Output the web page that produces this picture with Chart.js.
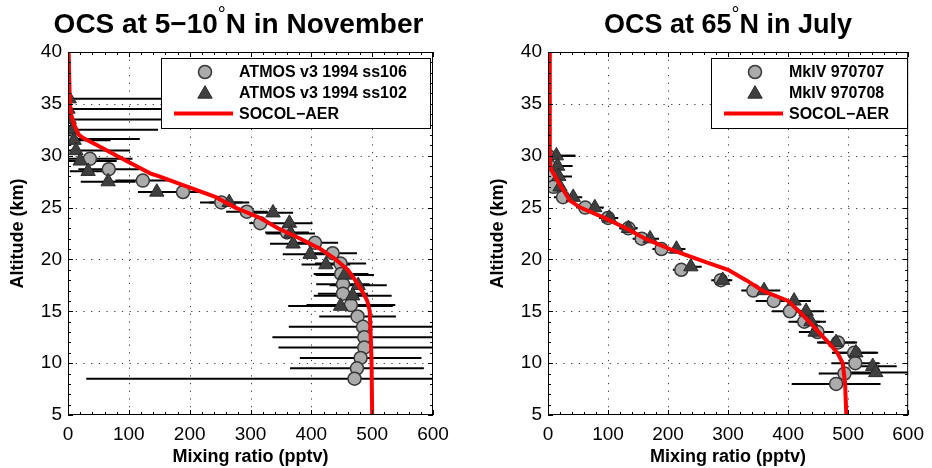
<!DOCTYPE html>
<html><head><meta charset="utf-8">
<script src="https://cdn.jsdelivr.net/npm/chart.js@4.4.0/dist/chart.umd.min.js"></script>
<style>
html,body{margin:0;padding:0;background:#fff;width:932px;height:468px;overflow:hidden;}
.panel{position:absolute;top:0;width:466px;height:468px;}
canvas{display:block;}
</style></head><body>
<div class="panel" style="left:0"><canvas id="c1" width="466" height="468"></canvas></div>
<div class="panel" style="left:466px"><canvas id="c2" width="466" height="468"></canvas></div>
<script>
// ---------- axes ----------
const xTicks = [0, 100, 200, 300, 400, 500, 600];
const yTicks = [5, 10, 15, 20, 25, 30, 35, 40];

// ---------- left panel: OCS at 5-10N, November ----------
const atmos106Alt = [31.6, 29.7, 28.7, 27.6, 26.5, 25.5, 24.6, 23.5, 22.6, 21.6, 20.6, 19.6, 18.6, 17.6, 16.7, 15.6, 14.5, 13.5, 12.5, 11.5, 10.5, 9.5, 8.5];
const atmos106Val = [0, 36, 67, 123, 189, 252, 294, 316, 360, 406, 435, 448, 449, 452, 452, 465, 476, 485, 487, 487, 481, 475, 471];
const atmos106Err = [118, 70, 50, 45, 33, 35, 34, 18, 36, 38, 40, 42, 45, 44, 41, 73, 63, 122, 151, 141, 100, 110, 441];

const atmos102Alt = [35.5, 34.5, 33.5, 32.5, 31.5, 30.5, 29.5, 28.5, 27.5, 26.5, 25.5, 24.5, 23.5, 22.5, 21.5, 20.5, 19.5, 18.5, 17.5, 16.5, 15.5];
const atmos102Val = [2, 0, 2, 7, 10, 13, 20, 33, 66, 146, 265, 337, 364, 366, 370, 398, 424, 455, 477, 468, 448];
const atmos102Err = [220, 220, 210, 141, 60, 89, 60, 30, 45, 31, 33, 33, 38, 40, 38, 45, 40, 48, 47, 64, 86];

const socolTropAlt = [40, 35, 34, 33, 32, 31.7, 31, 30, 29, 28.3, 28, 27, 26, 25, 24, 23, 22, 21, 20, 19, 18, 17, 16, 15, 12, 10, 5];
const socolTropVal = [1, 3, 5, 10, 18, 25, 48, 80, 112, 135, 150, 197, 243, 275, 316, 345, 382, 415, 440, 460, 472, 483, 492, 496, 498, 499, 500];

// ---------- right panel: OCS at 65N, July ----------
const mkiv707Alt = [30, 29, 28, 27, 26, 25, 24, 23, 22, 21, 19, 18, 17, 16, 15, 14, 13, 12, 11, 10, 9, 8];
const mkiv707Val = [0, 2, 6, 9, 25, 62, 100, 134, 156, 189, 222, 288, 342, 376, 403, 427, 449, 483, 510, 512, 494, 480];
const mkiv707Err = [45, 30, 20, 15, 15, 15, 15, 15, 15, 15, 14, 16, 20, 30, 30, 26, 27, 32, 37, 40, 43, 74];

const mkiv708Alt = [30, 29, 28, 27, 26, 25, 24, 23, 22, 21, 19.3, 18, 17, 16, 15, 14, 13, 12, 11, 9.7, 9.1];
const mkiv708Val = [14, 16, 18, 20, 42, 78, 102, 134, 170, 214, 238, 291, 360, 410, 430, 438, 445, 480, 513, 541, 546];
const mkiv708Err = [32, 25, 22, 8, 15, 15, 15, 15, 15, 15, 18, 16, 27, 28, 30, 25, 27, 32, 37, 40, 60];

const socolArcAlt = [40, 30, 29, 28.6, 28, 27, 26, 25.7, 25, 24, 23, 22, 21, 20, 19, 18, 17, 16, 15, 14, 13, 12, 11, 10, 8, 5];
const socolArcVal = [3, 3, 4, 6, 12, 22, 33, 36, 54, 94, 130, 162, 203, 250, 300, 330, 357, 400, 418, 435, 451, 467, 482, 491, 495, 497];

const leftLabels = ['ATMOS v3 1994 ss106', 'ATMOS v3 1994 ss102', 'SOCOL\u2212AER'];
const rightLabels = ['MkIV 970707', 'MkIV 970708', 'SOCOL\u2212AER'];

const FONT = '"Liberation Sans", Arial, Helvetica, sans-serif';
const CIRCLE_FILL = '#ababab', CIRCLE_EDGE = '#383838';
const TRI_FILL = '#3f3f3f', TRI_EDGE = '#2a2a2a';
const CIRCLE_R = 6.5, TRI_R = 8.3;

function pts(alt, val) { return alt.map((a, i) => ({ x: val[i], y: a })); }

function drawTri(ctx, x, y, r) {
  ctx.beginPath();
  for (let k = 0; k < 3; k++) {
    const ang = k * 2 * Math.PI / 3;
    const px = x + Math.sin(ang) * r, py = y - Math.cos(ang) * r;
    if (k === 0) ctx.moveTo(px, py); else ctx.lineTo(px, py);
  }
  ctx.closePath();
}

function makePanel(id, cfg) {
  const plugin = {
    id: 'deco' + id,
    beforeDatasetsDraw(chart) {
      const { ctx, chartArea: a, scales: { x, y } } = chart;
      ctx.save();
      // dotted grid
      ctx.strokeStyle = '#3a3a3a'; ctx.lineWidth = 1; ctx.setLineDash([1.2, 6.5]);
      xTicks.slice(1, -1).forEach(v => {
        const px = Math.round(x.getPixelForValue(v)) + 0.5;
        ctx.beginPath(); ctx.moveTo(px, a.bottom); ctx.lineTo(px, a.top); ctx.stroke();
      });
      yTicks.slice(1, -1).forEach(v => {
        const py = Math.round(y.getPixelForValue(v)) + 0.5;
        ctx.beginPath(); ctx.moveTo(a.left, py); ctx.lineTo(a.right, py); ctx.stroke();
      });
      ctx.setLineDash([]);
      // error bars
      ctx.beginPath(); ctx.rect(a.left, a.top, a.right - a.left, a.bottom - a.top); ctx.clip();
      ctx.strokeStyle = '#000'; ctx.lineWidth = 2;
      cfg.series.forEach(s => {
        s.alt.forEach((al, i) => {
          const py = y.getPixelForValue(al);
          ctx.beginPath();
          ctx.moveTo(x.getPixelForValue(s.val[i] - s.err[i]), py);
          ctx.lineTo(x.getPixelForValue(s.val[i] + s.err[i]), py);
          ctx.stroke();
        });
      });
      ctx.restore();
    },
    afterDatasetsDraw(chart) {
      const { ctx, chartArea: a, scales: { x, y } } = chart;
      ctx.save();
      // frame
      ctx.strokeStyle = '#000'; ctx.lineWidth = 1;
      ctx.strokeRect(a.left + 0.5, a.top + 0.5, a.right - a.left - 1, a.bottom - a.top - 1);
      // ticks
      ctx.beginPath();
      for (let v = 0; v <= 600; v += 20) {
        const px = Math.round(x.getPixelForValue(v)) + 0.5;
        const L = (v % 100 === 0) ? 5 : 3;
        ctx.moveTo(px, a.bottom); ctx.lineTo(px, a.bottom - L);
        ctx.moveTo(px, a.top); ctx.lineTo(px, a.top + L);
      }
      for (let v = 5; v <= 40; v += 1) {
        const py = Math.round(y.getPixelForValue(v)) + 0.5;
        const L = (v % 5 === 0) ? 5 : 3;
        ctx.moveTo(a.left, py); ctx.lineTo(a.left + L, py);
        ctx.moveTo(a.right, py); ctx.lineTo(a.right - L, py);
      }
      ctx.stroke();
      // legend
      const L = cfg.legend;
      ctx.fillStyle = '#fff';
      ctx.fillRect(L.x, L.y, L.w, L.h);
      ctx.strokeStyle = '#000'; ctx.lineWidth = 1;
      ctx.strokeRect(L.x + 0.5, L.y + 0.5, L.w, L.h);
      const mx = L.x + 44, rows = [L.y + 14, L.y + 34.5, L.y + 55.5];
      ctx.beginPath(); ctx.arc(mx, rows[0], CIRCLE_R, 0, Math.PI * 2);
      ctx.fillStyle = CIRCLE_FILL; ctx.fill(); ctx.lineWidth = 1.5; ctx.strokeStyle = CIRCLE_EDGE; ctx.stroke();
      drawTri(ctx, mx, rows[1] + 1.5, TRI_R);
      ctx.fillStyle = TRI_FILL; ctx.fill(); ctx.lineWidth = 1; ctx.strokeStyle = TRI_EDGE; ctx.stroke();
      ctx.beginPath(); ctx.moveTo(L.x + 13, rows[2]); ctx.lineTo(L.x + 72, rows[2]);
      ctx.strokeStyle = '#ff0000'; ctx.lineWidth = 4; ctx.stroke();
      ctx.fillStyle = '#000'; ctx.font = 'bold 16px ' + FONT; ctx.textBaseline = 'middle'; ctx.textAlign = 'left';
      cfg.labels.forEach((t, i) => ctx.fillText(t, L.x + 78, rows[i] + 1));
      // title
      const cx = (a.left + a.right) / 2, tb = 33;
      const tcx = cx + cfg.titleShift, fs = cfg.titleSize;
      ctx.textBaseline = 'alphabetic';
      ctx.font = 'bold ' + fs + 'px ' + FONT;
      const w1 = ctx.measureText(cfg.title[0]).width, w3 = ctx.measureText(cfg.title[1]).width;
      ctx.font = '20px ' + FONT;
      const w2 = ctx.measureText('\u00b0').width;
      let tx = tcx - (w1 + w2 + w3) / 2;
      ctx.font = 'bold ' + fs + 'px ' + FONT; ctx.fillText(cfg.title[0], tx, tb);
      ctx.font = '20px ' + FONT; ctx.fillText('\u00b0', tx + w1, tb - 12);
      ctx.font = 'bold ' + fs + 'px ' + FONT; ctx.fillText(cfg.title[1], tx + w1 + w2, tb);
      // axis titles
      ctx.font = 'bold 18px ' + FONT; ctx.textAlign = 'center';
      ctx.fillText('Mixing ratio (pptv)', cx, 462);
      ctx.save();
      ctx.translate(a.left - 50, (a.top + a.bottom) / 2);
      ctx.rotate(-Math.PI / 2);
      ctx.textBaseline = 'middle';
      ctx.fillText('Altitude (km)', 0, 0);
      ctx.restore();
      ctx.restore();
    }
  };

  const [circ, tri] = cfg.series;
  return new Chart(document.getElementById(id), {
    type: 'scatter',
    data: {
      datasets: [
        { label: cfg.labels[2], data: pts(cfg.model.alt, cfg.model.val), showLine: true, borderColor: '#ff0000', borderWidth: 4, pointRadius: 0, tension: 0, fill: false, order: 0 },
        { label: cfg.labels[1], data: pts(tri.alt, tri.val), pointStyle: 'triangle', pointRadius: TRI_R, backgroundColor: TRI_FILL, borderColor: TRI_EDGE, borderWidth: 1, order: 1 },
        { label: cfg.labels[0], data: pts(circ.alt, circ.val), pointStyle: 'circle', pointRadius: CIRCLE_R, backgroundColor: CIRCLE_FILL, borderColor: CIRCLE_EDGE, borderWidth: 1.5, order: 2 }
      ]
    },
    options: {
      responsive: false, animation: false, devicePixelRatio: 1,
      layout: { padding: { left: 0, right: cfg.padRight, top: 52, bottom: 0 } },
      plugins: { legend: { display: false }, tooltip: { enabled: false }, title: { display: false } },
      scales: {
        x: {
          type: 'linear', min: 0, max: 600,
          afterBuildTicks: s => { s.ticks = xTicks.map(v => ({ value: v })); },
          ticks: { font: { family: FONT, size: 19 }, color: '#000', padding: 8, maxRotation: 0, autoSkip: false },
          grid: { display: false, drawTicks: false }, border: { display: false },
          afterFit: s => { s.height = 53; }
        },
        y: {
          type: 'linear', min: 5, max: 40,
          afterBuildTicks: s => { s.ticks = yTicks.map(v => ({ value: v })); },
          ticks: { font: { family: FONT, size: 19 }, color: '#000', padding: 6, autoSkip: false },
          grid: { display: false, drawTicks: false }, border: { display: false },
          afterFit: s => { s.width = cfg.yWidth; }
        }
      }
    },
    plugins: [plugin]
  });
}

makePanel('c1', {
  series: [
    { alt: atmos106Alt, val: atmos106Val, err: atmos106Err },
    { alt: atmos102Alt, val: atmos102Val, err: atmos102Err }
  ],
  model: { alt: socolTropAlt, val: socolTropVal },
  labels: leftLabels,
  title: ['OCS at 5\u221210', 'N in November'],
  titleSize: 28, titleShift: -12,
  legend: { x: 161, y: 58, w: 269, h: 70 },
  yWidth: 68, padRight: 33
});

makePanel('c2', {
  series: [
    { alt: mkiv707Alt, val: mkiv707Val, err: mkiv707Err },
    { alt: mkiv708Alt, val: mkiv708Val, err: mkiv708Err }
  ],
  model: { alt: socolArcAlt, val: socolArcVal },
  labels: rightLabels,
  title: ['OCS at 65', 'N in July'],
  titleSize: 27, titleShift: 0,
  legend: { x: 245, y: 58, w: 196, h: 70 },
  yWidth: 82, padRight: 19
});
</script>
</body></html>
